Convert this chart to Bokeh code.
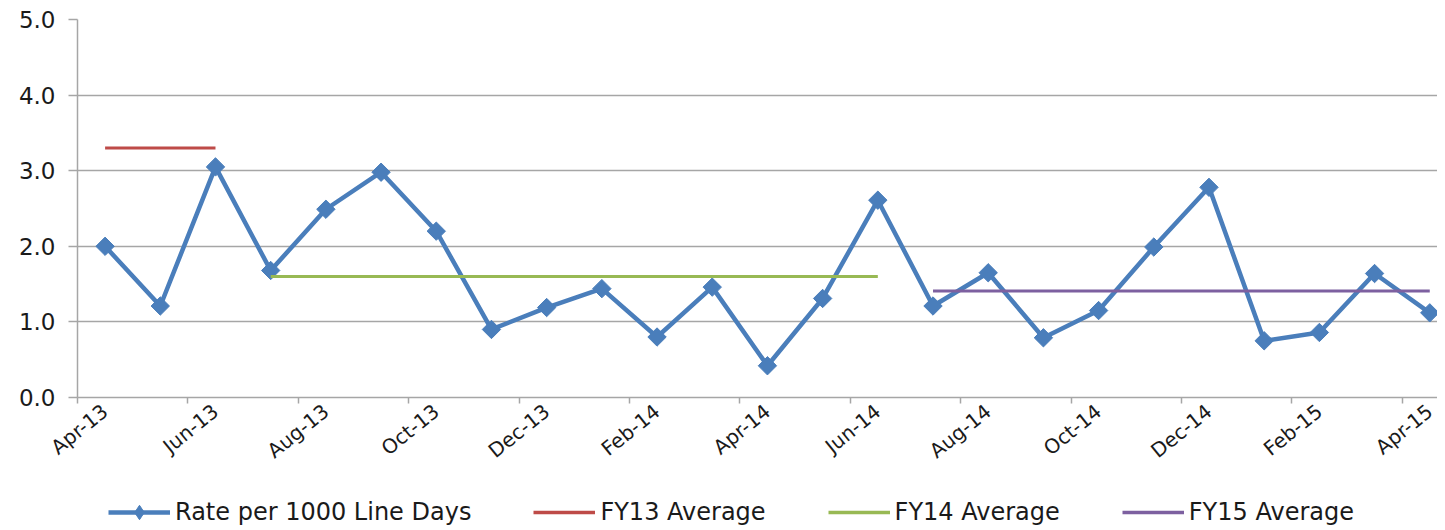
import math
from bokeh.plotting import figure
from bokeh.layouts import column
from bokeh.models import FixedTicker, Range1d, Legend, LegendItem, ColumnDataSource, CustomJSTickFormatter
from bokeh.embed import file_html
from bokeh.resources import INLINE

# ---- data ----
months = ["Apr-13", "May-13", "Jun-13", "Jul-13", "Aug-13", "Sep-13", "Oct-13", "Nov-13",
          "Dec-13", "Jan-14", "Feb-14", "Mar-14", "Apr-14", "May-14", "Jun-14", "Jul-14",
          "Aug-14", "Sep-14", "Oct-14", "Nov-14", "Dec-14", "Jan-15", "Feb-15", "Mar-15", "Apr-15"]
rate = [2.00, 1.21, 3.05, 1.68, 2.49, 2.98, 2.20, 0.90,
        1.19, 1.44, 0.80, 1.46, 0.42, 1.31, 2.61, 1.21,
        1.65, 0.79, 1.15, 1.99, 2.78, 0.75, 0.86, 1.64, 1.12]
fy13_span = ["Apr-13", "Jun-13"]
fy13_avg = 3.30
fy14_span = ["Jul-13", "Jun-14"]
fy14_avg = 1.60
fy15_span = ["Jul-14", "Apr-15"]
fy15_avg = 1.41
y_ticks = [0, 1, 2, 3, 4, 5]
series_names = ["Rate per 1000 Line Days", "FY13 Average", "FY14 Average", "FY15 Average"]

BLUE = "#4A7EBB"
RED = "#BE4B48"
GREEN = "#98B954"
PURPLE = "#7D60A0"
GRID = "#A6A6A6"
FONT = "DejaVu Sans"
TXT = "#1a1a1a"

xs = [i + 0.5 for i in range(len(months))]

p = figure(width=1437, height=476, output_backend="svg", toolbar_location=None,
           x_range=Range1d(0, 24.64), y_range=Range1d(0, 5),
           min_border_left=77, min_border_right=0, min_border_top=19, min_border_bottom=79)
p.outline_line_color = None
p.background_fill_color = "white"
p.border_fill_color = "white"

src = ColumnDataSource(dict(x=xs, y=rate))
p.line("x", "y", source=src, line_color=BLUE, line_width=4.5)
p.scatter("x", "y", source=src, marker="square", angle=math.pi / 4, size=13,
          fill_color=BLUE, line_color=BLUE)

def avg_source(span, val):
    a = months.index(span[0]) + 0.5
    b = months.index(span[1]) + 0.5
    return ColumnDataSource(dict(x=[a, b], y=[val, val]))

avg13 = avg_source(fy13_span, fy13_avg)
avg14 = avg_source(fy14_span, fy14_avg)
avg15 = avg_source(fy15_span, fy15_avg)
p.line("x", "y", source=avg13, line_color=RED, line_width=3)
p.line("x", "y", source=avg14, line_color=GREEN, line_width=3)
p.line("x", "y", source=avg15, line_color=PURPLE, line_width=3)

# x axis: labels at category centers every 2 months, tick marks at boundaries
label_idx = list(range(0, len(months), 2))
xa = p.xaxis[0]
xa.ticker = FixedTicker(ticks=[i + 0.5 for i in label_idx], minor_ticks=[float(i) for i in label_idx])
xa.major_label_overrides = {i + 0.5: months[i] for i in label_idx}
xa.major_tick_line_color = None
xa.minor_tick_line_color = GRID
xa.minor_tick_line_width = 1.5
xa.minor_tick_out = 6
xa.minor_tick_in = 0
xa.axis_line_color = GRID
xa.axis_line_width = 1.5
xa.major_label_orientation = 0.68
xa.major_label_text_font = FONT
xa.major_label_text_font_size = "20px"
xa.major_label_text_color = TXT
xa.major_label_standoff = 5

ya = p.yaxis[0]
ya.ticker = FixedTicker(ticks=y_ticks)
ya.formatter = CustomJSTickFormatter(code="return tick.toFixed(1);")
ya.axis_line_color = GRID
ya.axis_line_width = 1.5
ya.major_tick_line_color = GRID
ya.major_tick_line_width = 1.5
ya.major_tick_out = 9
ya.major_tick_in = 0
ya.minor_tick_line_color = None
ya.major_label_text_font = FONT
ya.major_label_text_font_size = "23px"
ya.major_label_text_color = TXT
ya.major_label_standoff = 13

p.xgrid.grid_line_color = None
p.ygrid.grid_line_color = GRID
p.ygrid.grid_line_width = 1.5
p.ygrid.ticker = FixedTicker(ticks=y_ticks[1:])

# ---- legend strip (separate figure under the chart; its ranges keep the
#      proxy copies of the series out of view, only the legend shows) ----
q = figure(width=1437, height=54, output_backend="svg", toolbar_location=None,
           x_axis_type=None, y_axis_type=None, x_range=Range1d(-100, -99), y_range=Range1d(-100, -99),
           min_border_left=0, min_border_right=0, min_border_top=0, min_border_bottom=0)
q.outline_line_color = None
q.grid.visible = False
q.background_fill_color = "white"
q.border_fill_color = "white"

lg_line = q.line("x", "y", source=src, line_color=BLUE, line_width=4.5)
lg_pts = q.scatter("x", "y", source=src, marker="diamond", size=20,
                   fill_color=BLUE, line_color=BLUE)
lg13 = q.line("x", "y", source=avg13, line_color=RED, line_width=3.5)
lg14 = q.line("x", "y", source=avg14, line_color=GREEN, line_width=3.5)
lg15 = q.line("x", "y", source=avg15, line_color=PURPLE, line_width=3.5)

legend = Legend(items=[
    LegendItem(label=series_names[0], renderers=[lg_line, lg_pts]),
    LegendItem(label=series_names[1], renderers=[lg13]),
    LegendItem(label=series_names[2], renderers=[lg14]),
    LegendItem(label=series_names[3], renderers=[lg15]),
], orientation="horizontal", location=(31, 0))
legend.label_text_font = FONT
legend.label_text_font_size = "24px"
legend.label_text_color = TXT
legend.glyph_width = 62
legend.glyph_height = 36
legend.label_standoff = 5
legend.spacing = 62
legend.padding = 0
legend.margin = 0
legend.border_line_color = None
legend.background_fill_alpha = 0
q.add_layout(legend, "center")

layout = column(p, q, spacing=0)
open("out.html", "w").write(file_html(layout, INLINE))
